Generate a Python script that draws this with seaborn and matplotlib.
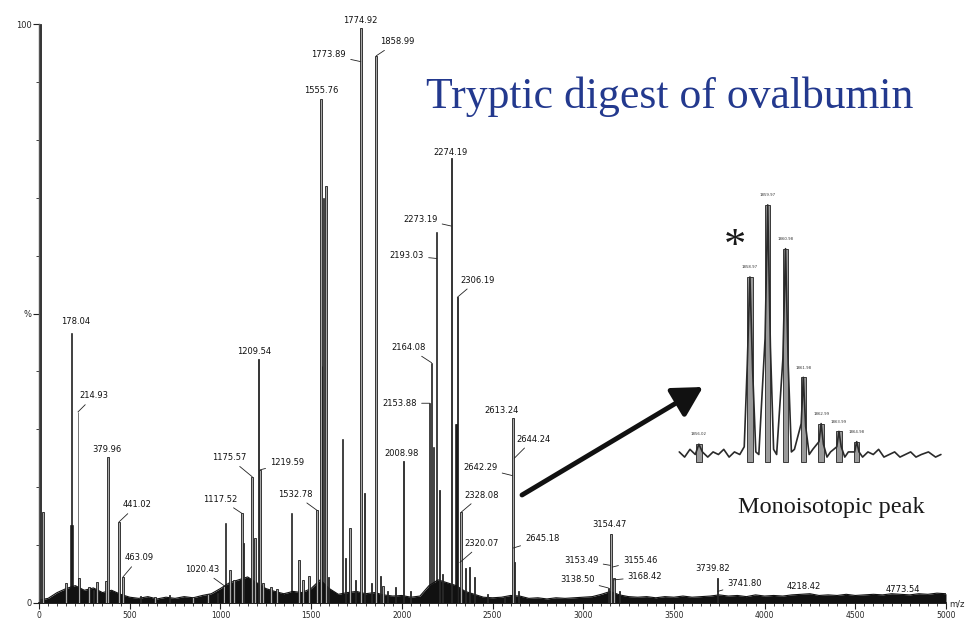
import numpy as np
import matplotlib
matplotlib.use("Agg")
import matplotlib.pyplot as plt
import seaborn as sns

# ---------------- data ----------------
# gray outlined peaks: m/z and relative intensity (%)
peak_mz = [8, 22, 149, 221, 276, 300, 320, 370, 379.96, 441.02, 463.09,
           560, 640, 720, 850, 930, 985,
           1020.43, 1054, 1076, 1117.52, 1128, 1175.57, 1190, 1209.54, 1219.59,
           1236, 1280, 1313, 1435, 1457, 1490, 1532.78, 1555.76, 1581.7, 1595,
           1689, 1716, 1744, 1774.92, 1794, 1832, 1858.99, 1882, 1898, 1921,
           1965, 2008.98, 2047, 2208, 2224, 2274.19, 2306.19, 2328.08, 2351,
           2373, 2401, 2472, 2566, 2613.24, 2621, 2643, 3138.5, 3154.47, 3170,
           3201, 3739.82]
peak_int = [100, 15.7, 3.5, 4.3, 2.8, 2.2, 3.7, 3.8, 25.3, 14, 4.5,
            1.2, 1.0, 1.3, 1.1, 1.5, 1.8,
            3, 5.7, 4, 15.5, 10.4, 21.8, 11.2, 42.2, 23,
            3.4, 2.8, 2.5, 7.4, 4, 4.7, 16, 87, 72, 4.5,
            7.8, 13, 4, 99.3, 19, 3.5, 94.5, 4.7, 3, 2,
            2.7, 24.5, 2, 19.5, 5, 76.8, 52.8, 15.7, 6,
            6.3, 4.5, 1.5, 1.2, 32, 7, 2, 2.6, 12, 4.3,
            2, 4.3]

# dark (black) peaks
dark_mz = [172, 178.04, 186, 214.93, 1030, 1391, 1560, 1568, 1672,
           2153.88, 2164.08, 2175, 2193.03, 2295, 2302]
dark_int = [13.5, 46.7, 13.5, 33, 13.8, 15.6, 41, 70, 28.4,
            34.5, 41.5, 27, 64, 31, 31]

# baseline noise envelope, every 50 m/z from 0 to 5000
grass_mz = list(range(0, 5001, 50))
grass_int = [0.5, 0.8, 1.8, 2.5, 3.0, 2.2, 2.6, 1.8, 2.2, 1.5,
             1.0, 0.8, 1.1, 0.7, 1.0, 0.8, 1.1, 0.9, 1.3, 1.6,
             2.5, 3.5, 4.0, 4.5, 3.5, 2.5, 2.0, 1.6, 2.0, 1.8,
             2.5, 4.0, 2.5, 1.5, 1.8, 2.0, 1.6, 1.8, 1.4, 1.2,
             1.3, 1.0, 1.2, 3.0, 4.0, 3.5, 3.0, 2.0, 1.5, 1.0,
             0.9, 1.0, 1.3, 1.2, 0.8, 0.9, 0.7, 0.9, 0.8, 0.9,
             1.0, 1.1, 1.5, 2.0, 1.4, 1.1, 1.0, 1.1, 0.9, 1.1,
             1.0, 1.2, 1.0, 1.1, 1.2, 1.4, 1.2, 1.3, 1.1, 1.4,
             1.2, 1.3, 1.2, 1.4, 1.5, 1.6, 1.3, 1.4, 1.3, 1.5,
             1.3, 1.4, 1.5, 1.4, 1.6, 1.5, 1.4, 1.6, 1.5, 1.7, 1.6]

# peak labels: text, anchor m/z, anchor intensity
label_text = ["178.04", "214.93", "379.96", "441.02", "463.09", "1020.43",
              "1117.52", "1175.57", "1209.54", "1219.59", "1532.78", "1555.76",
              "1773.89", "1774.92", "1858.99", "2008.98", "2153.88", "2164.08",
              "2193.03", "2273.19", "2274.19", "2306.19", "2328.08", "2320.07",
              "2613.24", "2644.24", "2642.29", "2645.18", "3154.47", "3153.49",
              "3138.50", "3155.46", "3168.42", "3739.82", "3741.80", "4218.42",
              "4773.54"]
label_mz = [178.04, 214.93, 379.96, 441.02, 463.09, 1020.43,
            1117.52, 1175.57, 1209.54, 1219.59, 1532.78, 1555.76,
            1773.89, 1774.92, 1858.99, 2008.98, 2153.88, 2164.08,
            2193.03, 2273.19, 2274.19, 2306.19, 2328.08, 2320.07,
            2613.24, 2620, 2610, 2615, 3154.47, 3150,
            3138.5, 3160, 3170, 3739.82, 3741.8, 4218.42,
            4773.54]
label_h = [46.7, 33, 25.3, 14, 4.5, 3,
           15.5, 21.8, 42.2, 23, 16, 87,
           93.5, 99.3, 94.5, 24.5, 34.5, 41.5,
           59.5, 65.1, 76.8, 52.8, 15.7, 7,
           32, 25, 22, 9.5, 12, 6.5,
           2.6, 6.2, 4, 4.3, 2, 1.5,
           1.5]

# inset: isotope cluster
iso_mz = [1856.1, 1858.97, 1859.97, 1860.97, 1861.97, 1862.97, 1863.97, 1864.97]
iso_int = [7, 72, 100, 83, 33, 15, 12, 8]
iso_text = ["1856.02", "1858.97", "1859.97", "1860.98", "1861.98", "1862.99",
            "1863.99", "1864.98"]
trace_mz = [1855.0, 1855.3, 1855.6, 1855.9, 1856.1, 1856.3, 1856.6, 1856.9,
            1857.2, 1857.5, 1857.8, 1858.1, 1858.4, 1858.65,
            1858.82, 1858.97, 1859.12, 1859.3, 1859.47,
            1859.82, 1859.97, 1860.12, 1860.3, 1860.47,
            1860.82, 1860.97, 1861.12, 1861.3, 1861.47,
            1861.85, 1861.97, 1862.1, 1862.3, 1862.5,
            1862.85, 1862.97, 1863.1, 1863.3, 1863.5,
            1863.85, 1863.97, 1864.1, 1864.3, 1864.5,
            1864.85, 1864.97, 1865.1, 1865.3, 1865.6, 1865.9, 1866.2, 1866.5,
            1866.8, 1867.1, 1867.4, 1867.7, 1868.0, 1868.3, 1868.6, 1869.0,
            1869.4, 1869.7]
trace_int = [4, 2, 5, 3, 7, 4, 2, 4,
             3, 5, 2, 4, 3, 6,
             38, 72, 36, 4, 3,
             48, 100, 45, 5, 3,
             40, 83, 38, 4, 5,
             15, 33, 14, 3, 5,
             8, 15, 7, 2, 4,
             6, 12, 6, 2, 4,
             4, 8, 4, 2, 4, 3, 5, 2,
             3, 4, 2, 3, 4, 2, 3, 4,
             2, 3]

x_ticks = [0, 500, 1000, 1500, 2000, 2500, 3000, 3500, 4000, 4500, 5000]
y_ticks = [0, 50, 100]
y_ticklabels = ["0", "%", "100"]

# ---------------- layout (label offsets in pixels, leader flags) ----------------
label_offset = [(4, 11), (16, 16), (-1, 7), (18, 17), (16, 19), (-22, 16),
                (-21, 14), (-23, 19), (-4, 7), (27, 7), (-22, 16), (0, 9),
                (-32, 7), (-1, 8), (21, 14), (-2, 8), (-30, 0), (-23, 15),
                (-30, 3), (-31, 7), (-1, 6), (20, 17), (20, 17), (22, 19),
                (-11, 7), (19, 19), (-32, 8), (29, 9), (-2, 9), (-29, 5),
                (-31, 8), (28, 7), (31, 3), (-5, 10), (27, 8), (0, 8),
                (-2, 5)]
label_leader = [False, True, False, True, True, True,
                True, True, False, True, True, False,
                True, False, True, False, True, True,
                True, True, False, True, True, True,
                False, True, True, True, False, True,
                True, True, True, False, True, False,
                False]

sns.set_style("ticks")
plt.rcParams["font.family"] = ["DejaVu Sans"]

W, H = 966, 621
fig = plt.figure(figsize=(W / 100, H / 100), dpi=100)
fig.patch.set_facecolor("white")
ax = fig.add_axes([39 / W, 18 / H, 907 / W, 579 / H])

# baseline noise
ax.fill_between(grass_mz, 0, grass_int, color="#111111", lw=0, zorder=2)
sns.lineplot(x=grass_mz, y=grass_int, color="#111111", lw=0.8, ax=ax, zorder=2)

# peaks
ax.bar(peak_mz, peak_int, width=9, color="#a9a9a9", edgecolor="#1c1c1c",
       linewidth=0.6, zorder=3)
ax.bar(dark_mz, dark_int, width=5, color="#111111", edgecolor="#111111",
       linewidth=0.4, zorder=4)

ax.set_xlim(0, 5000)
ax.set_ylim(0, 100)
ax.set_xticks(x_ticks)
ax.set_xticklabels([str(t) for t in x_ticks], fontsize=5.5)
ax.set_xticks(np.arange(0, 5001, 50), minor=True)
ax.set_yticks(y_ticks)
ax.set_yticklabels(y_ticklabels, fontsize=6)
ax.set_yticks(np.arange(0, 101, 10), minor=True)
ax.tick_params(axis="both", which="major", length=4, width=0.8, pad=1.5,
               color="#222222")
ax.tick_params(axis="both", which="minor", length=2.5, width=0.6,
               color="#222222")
sns.despine(ax=ax)
ax.spines["left"].set_color("#555555")
ax.spines["left"].set_linewidth(1.0)
ax.spines["bottom"].set_color("#111111")
ax.spines["bottom"].set_linewidth(1.2)
ax.set_xlabel("")
ax.set_ylabel("")
ax.grid(False)

for t, m, h, off, lead in zip(label_text, label_mz, label_h, label_offset,
                              label_leader):
    kw = {}
    if lead:
        kw["arrowprops"] = dict(arrowstyle="-", lw=0.6, color="#222222",
                                shrinkA=1, shrinkB=0)
    ax.annotate(t, xy=(m, h), xytext=off, textcoords="offset pixels",
                ha="center", va="center", fontsize=6, color="#111111",
                annotation_clip=False, zorder=6, **kw)

fig.text(949 / W, 1 - 604 / H, "m/z", fontsize=6, ha="left", va="center")

# inset isotope cluster
iax = fig.add_axes([675 / W, (H - 472) / H, 270 / W, 282 / H])
iax.set_xlim(1854.76, 1869.93)
iax.set_ylim(-3.8, 105.8)
iax.axis("off")
iax.bar(iso_mz, iso_int, width=0.3, color="#9a9a9a", edgecolor="#222222",
        linewidth=0.6, zorder=2)
sns.lineplot(x=trace_mz, y=trace_int, color="#2a2a2a", lw=1.2, ax=iax,
             zorder=3)
for m, h, t in zip(iso_mz, iso_int, iso_text):
    iax.text(m, h + 3, t, fontsize=2.8, ha="center", va="bottom",
             color="#333333", clip_on=False)

# annotations
fig.text(670 / W, 1 - 97 / H, "Tryptic digest of ovalbumin",
         fontsize=31.5, family="Liberation Serif", color="#23398e",
         ha="center", va="center")
fig.text(831 / W, 1 - 508 / H, "Monoisotopic peak", fontsize=17.5,
         family="Liberation Serif", color="#1a1a1a", ha="center", va="center")
fig.text(735 / W, 1 - 258 / H, "*", fontsize=32, family="Liberation Serif",
         color="#1a1a1a", ha="center", va="baseline")

ax.annotate("", xy=(703, H - 387), xycoords="figure pixels",
            xytext=(522, H - 495), textcoords="figure pixels",
            arrowprops=dict(arrowstyle="-|>,head_length=0.9,head_width=0.5",
                            lw=3.5, color="#111111", mutation_scale=20,
                            shrinkA=0, shrinkB=0),
            annotation_clip=False)

fig.savefig("out.png", dpi=100)
